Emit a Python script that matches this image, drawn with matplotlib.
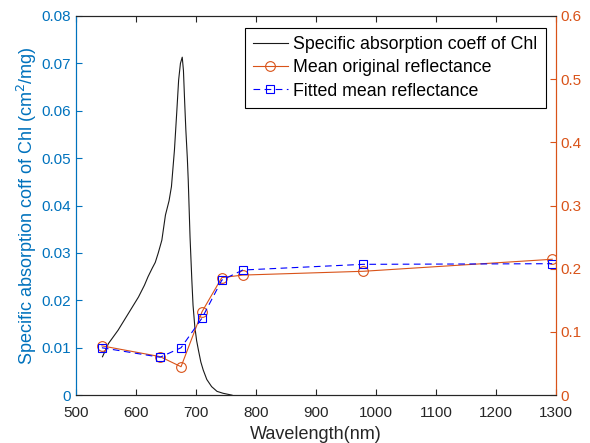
import matplotlib.pyplot as plt

# Datos
wl_chl = [544, 554, 570, 587, 604, 614, 620, 627, 632, 637, 643, 649, 655, 659, 664,
          668, 671, 674, 677, 679, 681, 683, 685.5, 687, 690, 693, 695, 698, 701, 704,
          708, 712, 718, 726, 735, 745, 760]
abs_chl = [0.0081, 0.0109, 0.0137, 0.0172, 0.0207, 0.0232, 0.0250, 0.0268, 0.0280, 0.0300,
           0.0327, 0.0380, 0.0410, 0.0440, 0.0517, 0.0600, 0.0665, 0.0700, 0.0713, 0.0685,
           0.0620, 0.0560, 0.0500, 0.0454, 0.0334, 0.0243, 0.0190, 0.0144, 0.0115, 0.0095,
           0.0070, 0.0053, 0.0033, 0.0018, 0.0008, 0.0004, 0.0000]

wl_bandas = [543, 640, 675, 710, 743, 778, 979, 1294]
refl_original = [0.078, 0.061, 0.045, 0.132, 0.186, 0.190, 0.196, 0.215]
refl_ajustada = [0.075, 0.060, 0.075, 0.122, 0.182, 0.198, 0.207, 0.208]

azul = '#0072BD'
naranja = '#D95319'
gris = '#262626'

plt.rcParams['font.family'] = ['Liberation Sans', 'DejaVu Sans']
plt.rcParams['font.size'] = 11

fig = plt.figure(figsize=(5.9, 4.43), dpi=100)
ax = fig.add_axes([0.129, 0.108, 0.813, 0.856])
ax2 = ax.twinx()

l1, = ax.plot(wl_chl, abs_chl, color='#1a1a1a', linewidth=0.8,
              label='Specific absorption coeff of Chl')
l2, = ax2.plot(wl_bandas, refl_original, color=naranja, linewidth=0.8, marker='o',
               markersize=7, markerfacecolor='none', markeredgewidth=0.8,
               label='Mean original reflectance')
l3, = ax2.plot(wl_bandas, refl_ajustada, color='blue', linewidth=0.8, linestyle='--',
               dashes=(6, 4), marker='s', markersize=6, markerfacecolor='none',
               markeredgewidth=0.8, label='Fitted mean reflectance')

ax.set_xlim(500, 1300)
ax.set_ylim(0, 0.08)
ax2.set_ylim(0, 0.6)
ax.set_xticks(range(500, 1301, 100))
ax.set_yticks([i * 0.01 for i in range(9)])
ax.set_yticklabels(['0'] + ['%.2f' % (i * 0.01) for i in range(1, 9)])
ax2.set_yticks([i * 0.1 for i in range(7)])
ax2.set_yticklabels(['0'] + ['%.1f' % (i * 0.1) for i in range(1, 7)])

ax.set_xlabel('Wavelength(nm)', color=gris, fontsize=13, labelpad=4)
ax.set_ylabel('Specific absorption coff of Chl (cm$^2$/mg)', color=azul, fontsize=13,
              labelpad=2)

ax.tick_params(axis='x', direction='in', top=True, colors=gris, length=4, pad=8)
ax.tick_params(axis='y', direction='in', colors=azul, length=4)
ax2.tick_params(axis='y', direction='in', colors=naranja, length=4)

for a in (ax, ax2):
    a.spines['top'].set_color(gris)
    a.spines['bottom'].set_color(gris)
    a.spines['left'].set_color(azul)
    a.spines['right'].set_color(naranja)
    for s in a.spines.values():
        s.set_linewidth(0.8)

leg = ax2.legend(handles=[l1, l2, l3], loc='upper right', bbox_to_anchor=(0.979, 0.968),
                 frameon=True, fancybox=False, edgecolor='black', framealpha=1,
                 fontsize=12.8, handlelength=2.0, borderpad=0.45, labelspacing=0.35,
                 handletextpad=0.3, borderaxespad=0)
leg.get_frame().set_linewidth(0.8)

fig.savefig('out.png', dpi=100)
